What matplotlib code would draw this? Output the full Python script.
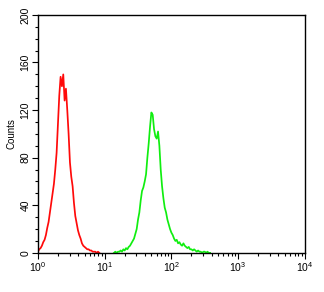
import numpy as np
import matplotlib
matplotlib.use('Agg')
import matplotlib.pyplot as plt
from matplotlib.ticker import LogLocator, MultipleLocator

plt.rcParams['font.family'] = ['Liberation Sans', 'DejaVu Sans']
plt.rcParams['mathtext.fontset'] = 'custom'
plt.rcParams['mathtext.rm'] = 'Liberation Sans'

# red population, counts on a log10 channel grid starting at 10^0, step 0.02
red_start = 0.0
red_counts = [1, 3, 4, 6, 9, 11, 15, 21, 26, 34, 42, 50, 58, 70, 84, 108, 132, 148,
              140, 150, 128, 138, 120, 100, 76, 64, 56, 42, 31, 25, 19, 15, 12, 8,
              6, 5, 4, 3, 3, 2, 2, 1, 1, 1, 0, 1, 0]

# green population, same grid step, starting at 10^1.14
green_start = 1.14
green_counts = [0, 1, 0, 1, 1, 2, 1, 3, 2, 4, 3, 5, 6, 8, 10, 12, 16, 20, 28, 34,
                44, 52, 55, 60, 66, 80, 92, 106, 118, 116, 104, 98, 96, 102, 90, 70,
                56, 46, 38, 34, 28, 24, 20, 17, 15, 12, 10, 11, 8, 9, 7, 6, 8, 6,
                5, 4, 5, 3, 3, 2, 3, 2, 1, 2, 1, 1, 0, 1, 1, 0, 1, 0, 0]

step = 0.02
red_x = 10 ** (red_start + step * np.arange(len(red_counts)))
green_x = 10 ** (green_start + step * np.arange(len(green_counts)))

fig = plt.figure(figsize=(3.24, 2.92), dpi=100)
ax = fig.add_axes([0.117, 0.134, 0.824, 0.815])

ax.plot(red_x, red_counts, color='#ff0a0a', lw=1.25)
ax.plot(green_x, green_counts, color='#10ee10', lw=1.25)

ax.set_xscale('log')
ax.set_xlim(1, 1e4)
ax.set_ylim(0, 200)

ax.xaxis.set_major_locator(LogLocator(base=10, numticks=10))
ax.xaxis.set_minor_locator(LogLocator(base=10, subs=np.arange(2, 10), numticks=20))
ax.yaxis.set_major_locator(MultipleLocator(40))
ax.yaxis.set_minor_locator(MultipleLocator(10))

ax.tick_params(which='major', direction='out', length=4, width=0.8, labelsize=7.5, pad=1.5)
ax.tick_params(which='minor', direction='out', length=2.5, width=0.8)
for lab in ax.get_yticklabels():
    lab.set_rotation(90)
    lab.set_va('center')

ax.set_ylabel('Counts', fontsize=7, labelpad=3)
for s in ax.spines.values():
    s.set_linewidth(1.0)

fig.savefig('out.png', dpi=100)
